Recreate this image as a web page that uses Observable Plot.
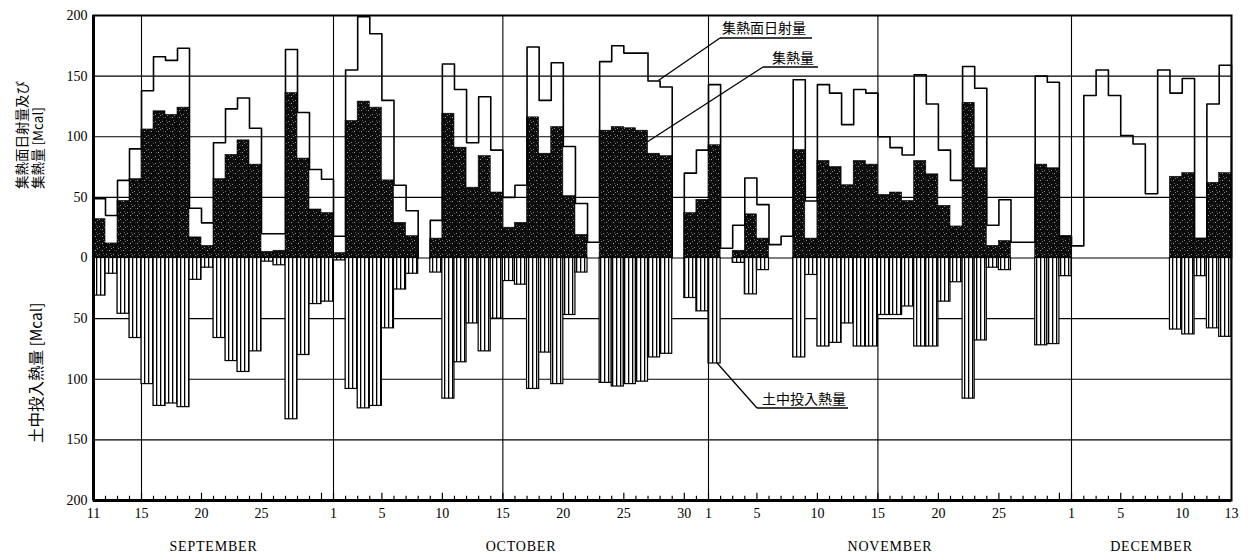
<!DOCTYPE html>
<html><head><meta charset="utf-8">
<script src="https://cdn.jsdelivr.net/npm/d3@7"></script>
<script src="https://cdn.jsdelivr.net/npm/@observablehq/plot@0.6"></script>
<style>
html,body{margin:0;padding:0;background:#fff;}
#chart{width:1252px;height:559px;}
</style></head><body><div id="chart"></div>
<script>
// ---- data (Mcal per day), Sept 11 – Dec 13; null = no record ----
const radiationSep = [49,35,64,90,138,166,163,173,41,29,95,123,132,107,20,20,172,120,73,65];
const radiationOct = [18,155,199,185,130,60,39,null,31,160,139,95,133,89,50,60,174,130,161,92,45,13,162,175,169,169,146,141,null,70,89];
const radiationNov = [143,8,27,66,44,11,18,147,47,143,136,110,139,136,100,91,85,151,127,89,64,158,140,27,48,13,13,150,145,18];
const radiationDec = [10,134,155,134,101,94,53,155,136,148,16,127,159];

const collectedSep = [32,12,47,65,106,121,118,124,17,10,65,85,97,77,5,6,136,82,40,37];
const collectedOct = [4,113,129,124,64,29,18,null,16,119,91,58,84,54,25,29,116,86,108,51,19,0,105,108,107,105,86,84,null,37,48];
const collectedNov = [93,0,6,36,16,0,0,89,16,80,75,60,80,77,52,54,47,80,69,43,26,128,74,10,14,0,0,77,74,18];
const collectedDec = [0,0,0,0,0,0,0,0,67,70,16,62,70];

const groundSep = [31,13,46,66,104,122,120,123,18,8,66,85,94,77,3,6,133,80,38,36];
const groundOct = [2,108,124,122,58,26,13,null,12,116,86,54,77,50,19,22,108,78,104,47,12,0,103,106,104,102,82,79,null,33,44];
const groundNov = [87,0,4,30,10,0,0,82,14,73,70,54,73,73,47,47,40,73,73,36,20,116,68,8,10,0,0,72,71,15];
const groundDec = [0,0,0,0,0,0,0,0,59,63,15,58,65];

const monthNames = ["SEPTEMBER","OCTOBER","NOVEMBER","DECEMBER"];
const tickDaysSep = [11,15,20,25];
const tickDaysOct = [1,5,10,15,20,25,30];
const tickDaysNov = [1,5,10,15,20,25];
const tickDaysDec = [1,5,10,13];
const yTicks = [-200,-150,-100,-50,0,50,100,150,200];
const seriesLabels = ["集熱面日射量","集熱量","土中投入熱量"];
const yTitleTop = ["集熱面日射量及び","集熱量 [Mcal]"];
const yTitleBottom = "土中投入熱量 [Mcal]";

// ---- build table ----
const start = new Date(Date.UTC(1981, 8, 11));
const rad = [...radiationSep, ...radiationOct, ...radiationNov, ...radiationDec];
const col = [...collectedSep, ...collectedOct, ...collectedNov, ...collectedDec];
const gnd = [...groundSep, ...groundOct, ...groundNov, ...groundDec];
const rows = rad.map((r, i) => {
  const date = d3.utcDay.offset(start, i);
  return {i, date, month: date.getUTCMonth(), dom: date.getUTCDate(), rad: r, col: col[i], gnd: gnd[i]};
});
const N = rows.length;
const monthStarts = [0, ...rows.filter(d => d.dom === 1).map(d => d.i)];
const monthSpans = monthStarts.map((s, k) => [s, k + 1 < monthStarts.length ? monthStarts[k + 1] : N]);
const months = monthNames.map((name, k) => ({name, mid: (monthSpans[k][0] + monthSpans[k][1]) / 2}));

// tick labels
const tickSets = [tickDaysSep, tickDaysOct, tickDaysNov, tickDaysDec];
const tickMap = new Map();
tickSets.forEach((set, k) => set.forEach((dom, j) => {
  const row = rows.find(d => d.i >= monthSpans[k][0] && d.i < monthSpans[k][1] && d.dom === dom);
  const last = k === tickSets.length - 1 && j === set.length - 1;
  tickMap.set(last ? row.i + 1 : row.i, String(dom));
}));
const gridDays = rows.filter(d => d.i > 0 && (d.dom === 1 || d.dom === 15)).map(d => d.i);
const dayTicks = rows.filter(d => d.i > 0).map(d => ({i: d.i, major: d.dom % 5 === 0 || d.dom === 1}));

// step outline of radiation
const outline = [];
let run = 0, inRun = false;
rows.forEach(d => {
  if (d.rad == null) {
    if (inRun) { outline.push({x: d.i, y: 0, run}); run++; }
    inRun = false; return;
  }
  if (!inRun) outline.push({x: d.i, y: 0, run});
  outline.push({x: d.i, y: d.rad, run}, {x: d.i + 1, y: d.rad, run});
  inRun = true;
});
if (inRun) outline.push({x: N, y: 0, run});

const serif = "'Liberation Serif','DejaVu Serif',serif";
const cjk = "'Noto Sans CJK JP','Noto Sans CJK SC',sans-serif";

const chart = Plot.plot({
  width: 1252, height: 559,
  marginLeft: 93, marginRight: 21, marginTop: 15, marginBottom: 59,
  style: {fontFamily: serif, fontSize: "14px", background: "#fff", color: "#000"},
  x: {type: "linear", domain: [0, 20, 51, 81, N], range: [93, 333, 708, 1071, 1231], axis: null},
  y: {domain: [-200, 200], axis: null},
  marks: [
    Plot.ruleY(yTicks.filter(v => Math.abs(v) < 200), {stroke: "#000", strokeWidth: 1.1}),
    Plot.ruleX(gridDays, {stroke: "#000", strokeWidth: 1.1}),
    Plot.rectY(rows.filter(d => d.col > 0), {x1: "i", x2: d => d.i + 1, y: "col", fill: "url(#stip)", stroke: "#000", strokeWidth: 0.6}),
    Plot.rectY(rows.filter(d => d.gnd > 0), {x1: "i", x2: d => d.i + 1, y1: 0, y2: d => -d.gnd, fill: "url(#hatch)", stroke: "#000", strokeWidth: 1.2}),
    Plot.line(outline, {x: "x", y: "y", z: "run", stroke: "#000", strokeWidth: 1.6, curve: "linear"}),
    Plot.ruleX(dayTicks, {x: "i", y1: -200, y2: d => -200 + (d.major ? 6 : 3.5), stroke: "#000", strokeWidth: 1.2}),
    Plot.frame({stroke: "#000", strokeWidth: 2}),
    Plot.ruleX([0], {stroke: "#000", strokeWidth: 3}),
    Plot.ruleY([-200], {stroke: "#000", strokeWidth: 3}),
    Plot.axisY({ticks: yTicks, tickFormat: d => Math.abs(d), tickSize: 0, tickPadding: 6, fontSize: 14}),
    Plot.axisX({ticks: [...tickMap.keys()], tickFormat: d => tickMap.get(d), tickSize: 0, tickPadding: 8, fontSize: 14}),
    Plot.text(months, {x: "mid", y: -200, dy: 46, text: "name", fontSize: 14, lineAnchor: "middle", fontFamily: serif})
  ]
});

const svg = d3.select(chart);
const defs = svg.insert("defs", ":first-child");
const st = defs.append("pattern").attr("id", "stip").attr("patternUnits", "userSpaceOnUse").attr("width", 7).attr("height", 7);
st.append("rect").attr("width", 7).attr("height", 7).attr("fill", "#0c0c0c");
[[1,2,"#8a8a8a"],[4,5,"#a0a0a0"],[5,1,"#5a5a5a"],[2,5,"#444"],[6,3,"#808080"]].forEach(([x,y,c]) =>
  st.append("rect").attr("x", x).attr("y", y).attr("width", 1).attr("height", 1).attr("fill", c));
const ht = defs.append("pattern").attr("id", "hatch").attr("patternUnits", "userSpaceOnUse").attr("width", 4).attr("height", 10);
ht.append("rect").attr("width", 4).attr("height", 10).attr("fill", "#fff");
ht.append("rect").attr("x", 0).attr("width", 1.3).attr("height", 10).attr("fill", "#000");

svg.selectAll("g[aria-label='text'] text").attr("letter-spacing", "0.8px");

const xs = chart.scale("x"), ys = chart.scale("y");
const X = v => xs.apply(v), Y = v => ys.apply(v);
const oct27 = rows.find(d => d.month === 9 && d.dom === 27);
const oct26 = rows.find(d => d.month === 9 && d.dom === 26);
const nov1 = rows.find(d => d.month === 10 && d.dom === 1);

const ann = svg.append("g").attr("font-family", cjk).attr("fill", "#000").attr("text-anchor", "start");
const addLabel = (label, tx, ty, ux1, ux2, uy, px, py) => {
  ann.append("text").attr("x", tx).attr("y", ty).attr("font-size", 14).attr("text-anchor", "start").attr("dominant-baseline", "central").text(label);
  ann.append("line").attr("x1", ux1).attr("x2", ux2).attr("y1", uy).attr("y2", uy).attr("stroke", "#000").attr("stroke-width", 1.3);
  ann.append("line").attr("x1", ux1).attr("y1", uy).attr("x2", px).attr("y2", py).attr("stroke", "#000").attr("stroke-width", 1.3);
};
addLabel(seriesLabels[0], 722, 27, 720, 812, 38, X(oct27.i + 0.9), Y(oct27.rad));
addLabel(seriesLabels[1], 772, 57, 763, 818, 67, X(oct27.i), Y((oct26.col + oct27.col) / 2));
addLabel(seriesLabels[2], 762, 398, 757, 848, 408, X(nov1.i + 0.75), Y(-nov1.gnd));

const yt = svg.append("g").attr("font-family", cjk).attr("fill", "#000").attr("text-anchor", "start");
yt.append("text").attr("transform", "translate(21,189) rotate(-90)").attr("font-size", 13.5).attr("text-anchor", "start").attr("dominant-baseline", "central").text(yTitleTop[0]);
yt.append("text").attr("transform", "translate(37,189) rotate(-90)").attr("font-size", 13.5).attr("text-anchor", "start").attr("dominant-baseline", "central").text(yTitleTop[1]);
yt.append("text").attr("transform", "translate(35,443) rotate(-90)").attr("font-size", 15.5).attr("text-anchor", "start").attr("dominant-baseline", "central").text(yTitleBottom);

document.getElementById("chart").appendChild(chart);
</script></body></html>
